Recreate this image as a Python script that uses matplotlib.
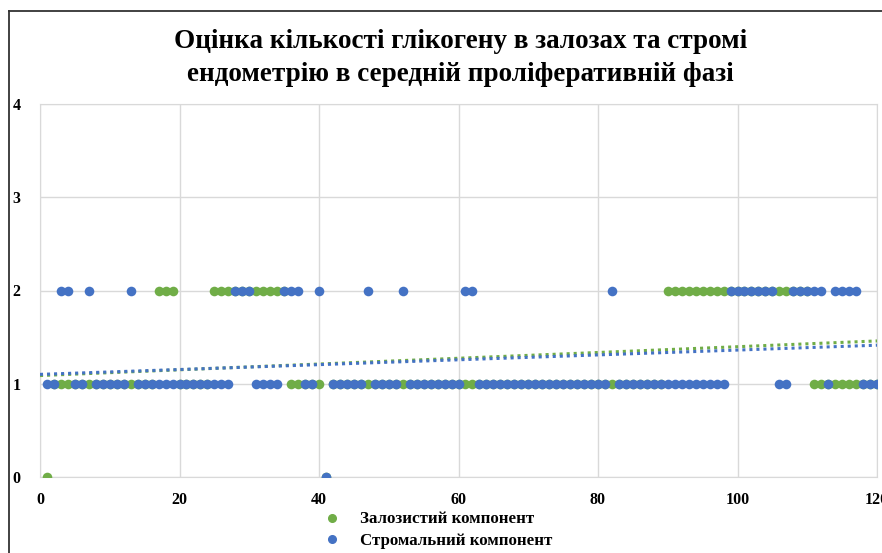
import numpy as np
import matplotlib
matplotlib.use("Agg")
from matplotlib import pyplot as plt
from matplotlib.lines import Line2D

# sample number 1..120
sample = list(range(1, 121))

# glandular component score per sample
glandular = [1] * 120
for i in [1, 41]:
    glandular[i - 1] = 0
for i in [17, 18, 19] + list(range(25, 36)) + list(range(90, 111)):
    glandular[i - 1] = 2

# stromal component score per sample
stromal = [1] * 120
stromal[41 - 1] = 0
for i in [3, 4, 7, 13, 28, 29, 30, 35, 36, 37, 40, 47, 52, 61, 62, 82] \
        + list(range(99, 106)) + list(range(108, 113)) + list(range(114, 118)):
    stromal[i - 1] = 2

series_names = ["Залозистий компонент", "Стромальний компонент"]
title = "Оцінка кількості глікогену в залозах та стромі\nендометрію в середній проліферативній фазі"

green = "#70AD47"
blue = "#4472C4"

fig = plt.figure(figsize=(8.82, 5.53), dpi=100)
ax = fig.add_axes([40 / 882, 1 - 477 / 553, 837 / 882, 373 / 553])

ax.scatter(sample, glandular, s=48, color=green, zorder=3, linewidths=0)
ax.scatter(sample, stromal, s=48, color=blue, zorder=4, linewidths=0)

# linear trendlines
xs = np.array([0, 120])
for vals, col in [(glandular, green), (stromal, blue)]:
    k, b = np.polyfit(sample, vals, 1)
    ax.plot(xs, k * xs + b, color=col, lw=2.2, linestyle=(0, (1, 1.3)), zorder=5)

ax.set_xlim(0, 120)
ax.set_ylim(0, 4)
ax.set_xticks(range(0, 121, 20))
ax.set_yticks(range(0, 5))
ax.grid(True, color="#d9d9d9", lw=1)
ax.set_axisbelow(True)
for sp in ax.spines.values():
    sp.set_color("#d9d9d9")
ax.tick_params(length=0, labelsize=11.5)
ax.tick_params(axis="x", pad=11)
ax.tick_params(axis="y", pad=14)
for lab in ax.get_xticklabels() + ax.get_yticklabels():
    lab.set_fontfamily("Liberation Serif")
    lab.set_fontweight("bold")

fig.text(0.522, 1 - 58 / 553, title, ha="center", va="center", fontsize=19.5,
         fontfamily="Liberation Serif", fontweight="bold", linespacing=1.45)

handles = [Line2D([], [], marker="o", ls="", color=green, markersize=5.5),
           Line2D([], [], marker="o", ls="", color=blue, markersize=5.5)]
fig.legend(handles, series_names, loc="upper left",
           bbox_to_anchor=(311 / 882, 1 - 503 / 553), frameon=False,
           prop={"family": "Liberation Serif", "weight": "bold", "size": 12.2},
           handletextpad=0.9, labelspacing=0.3, borderpad=0, handlelength=1.5)

# outer chart frame (cropped on right and bottom)
fig.add_artist(Line2D([9 / 882, 9 / 882], [0, 1 - 11 / 553], color="#333333", lw=1.3))
fig.add_artist(Line2D([9 / 882, 1], [1 - 11 / 553, 1 - 11 / 553], color="#333333", lw=1.3))

fig.savefig("out.png", dpi=100)
